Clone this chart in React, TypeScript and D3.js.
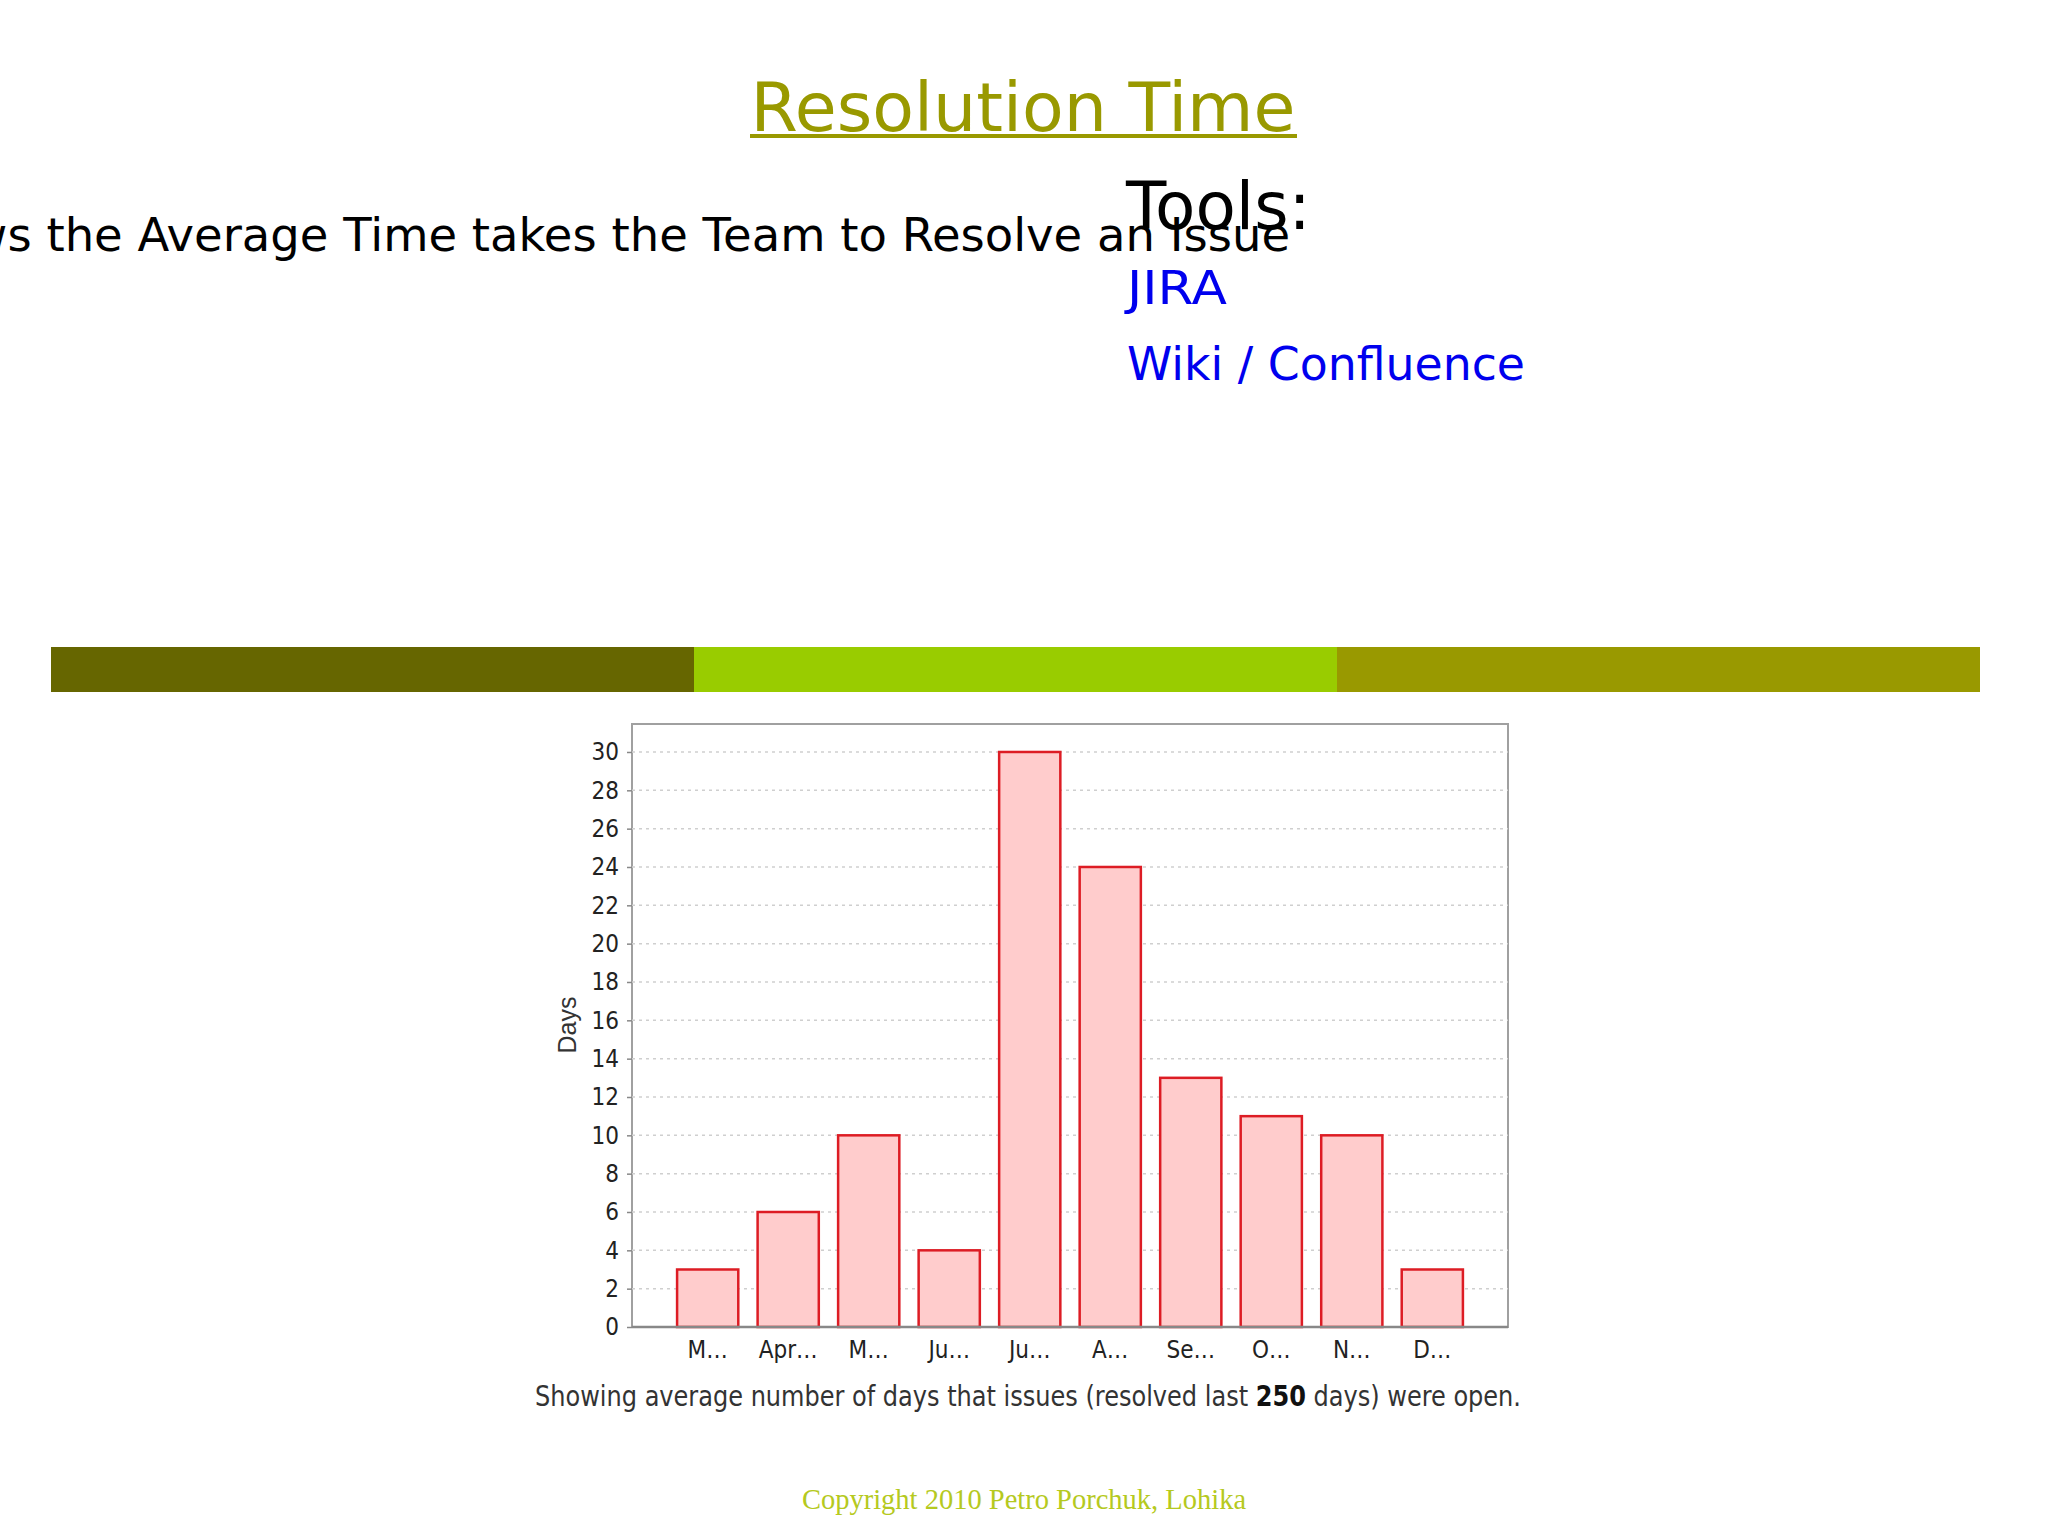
import * as d3 from "d3";
import React, { useEffect, useRef } from "react";

// chart values
const months = ["M…", "Apr…", "M…", "Ju…", "Ju…", "A…", "Se…", "O…", "N…", "D…"];
const avgDays = [3, 6, 10, 4, 30, 24, 13, 11, 10, 3];
const yTicks = d3.range(0, 31, 2);

const toolLinks = ["JIRA", "Wiki / Confluence"];
const toolWidths = [100, 398];
const bandColors = ["#666600", "#99cc00", "#999900"];

const W = 2048;
const H = 1536;

const App = () => {
  const chartRef = useRef<SVGGElement | null>(null);

  useEffect(() => {
    if (chartRef.current) drawChart();
  }, []);

  const drawChart = () => {
    const g = d3.select(chartRef.current);
    g.selectAll("*").remove();

    const left = 632;
    const right = 1508;
    const top = 724;
    const bottom = 1327;

    const x = d3
      .scaleBand<number>()
      .domain(d3.range(months.length))
      .range([left, right])
      .paddingInner(0.24)
      .paddingOuter(0.56);

    const y = d3.scaleLinear().domain([0, 31.46]).range([bottom, top]);

    const chartFont = "'Liberation Sans Narrow', 'DejaVu Sans Condensed', sans-serif";

    // frame background
    g.append("rect")
      .attr("x", left)
      .attr("y", top)
      .attr("width", right - left)
      .attr("height", bottom - top)
      .attr("fill", "#fff")
      .attr("stroke", "#a0a0a0")
      .attr("stroke-width", 2);

    // gridlines
    g.append("g")
      .selectAll("line")
      .data(yTicks.filter((t) => t > 0))
      .enter()
      .append("line")
      .attr("x1", left)
      .attr("x2", right)
      .attr("y1", (d) => y(d))
      .attr("y2", (d) => y(d))
      .attr("stroke", "#cfcfcf")
      .attr("stroke-width", 1.5)
      .attr("stroke-dasharray", "3,4");

    // y axis
    const yAxis = g
      .append("g")
      .attr("transform", `translate(${left},0)`)
      .call(d3.axisLeft(y).tickValues(yTicks).tickSize(5).tickPadding(8));
    yAxis.select(".domain").remove();
    yAxis.selectAll(".tick line").attr("stroke", "#888").attr("stroke-width", 1.5);
    yAxis
      .selectAll(".tick text")
      .attr("font-family", chartFont)
      .attr("font-size", 24)
      .attr("fill", "#222");

    // bars
    g.append("g")
      .selectAll("rect")
      .data(avgDays)
      .enter()
      .append("rect")
      .attr("x", (d, i) => x(i)!)
      .attr("y", (d) => y(d))
      .attr("width", x.bandwidth())
      .attr("height", (d) => bottom - y(d))
      .attr("fill", "#ffcccc")
      .attr("stroke", "#dd1c24")
      .attr("stroke-width", 2.5);

    // bottom axis line
    g.append("line")
      .attr("x1", left)
      .attr("x2", right)
      .attr("y1", bottom)
      .attr("y2", bottom)
      .attr("stroke", "#888")
      .attr("stroke-width", 2.5);

    // x labels
    g.append("g")
      .selectAll("text")
      .data(months)
      .enter()
      .append("text")
      .attr("x", (d, i) => x(i)! + x.bandwidth() / 2)
      .attr("y", 1358)
      .attr("text-anchor", "middle")
      .attr("font-family", chartFont)
      .attr("font-size", 24)
      .attr("fill", "#222")
      .text((d) => d);

    // y label
    g.append("text")
      .attr("transform", `translate(576,1025) rotate(-90)`)
      .attr("text-anchor", "middle")
      .attr("font-family", "'Liberation Sans', Arial, sans-serif")
      .attr("font-size", 25)
      .attr("fill", "#333")
      .text("Days");

    // caption
    const cap = g
      .append("text")
      .attr("x", 535)
      .attr("y", 1406)
      .attr("textLength", 986)
      .attr("lengthAdjust", "spacingAndGlyphs")
      .attr("font-family", chartFont)
      .attr("font-size", 28)
      .attr("fill", "#333");
    cap.append("tspan").text("Showing average number of days that issues (resolved last ");
    cap.append("tspan").attr("font-weight", "bold").attr("fill", "#111").text("250");
    cap.append("tspan").text(" days) were open.");
  };

  const bandX = d3.scaleBand<number>().domain([0, 1, 2]).range([51, 1980]);

  return (
    <svg
      width={W}
      height={H}
      style={{ position: "absolute", left: 0, top: 0, display: "block", background: "#fff" }}
    >
      <text
        x={1023}
        y={131}
        textAnchor="middle"
        fontFamily="'DejaVu Sans', Verdana, sans-serif"
        fontSize={68}
        fill="#999900"
        textLength={545}
        lengthAdjust="spacingAndGlyphs"
      >
        Resolution Time
      </text>
      <rect x={750} y={134} width={547} height={4} fill="#999900" />

      <text
        x={1290}
        y={251}
        textAnchor="end"
        fontFamily="'DejaVu Sans', Verdana, sans-serif"
        fontSize={46.5}
        fill="#000"
      >
        Shows the Average Time takes the Team to Resolve an Issue
      </text>

      <text x={1126} y={229} fontFamily="'DejaVu Sans', Verdana, sans-serif" fontSize={66} fill="#000">
        Tools:
      </text>
      {toolLinks.map((t, i) => (
        <text
          key={t}
          x={1127}
          y={304 + i * 76}
          fontFamily="'DejaVu Sans', Verdana, sans-serif"
          fontSize={46}
          fill="#0000ee"
          textLength={toolWidths[i]}
          lengthAdjust="spacingAndGlyphs"
        >
          {t}
        </text>
      ))}

      {bandColors.map((c, i) => (
        <rect key={c} x={bandX(i)} y={647} width={bandX.bandwidth()} height={45} fill={c} />
      ))}

      <g ref={chartRef} />

      <text
        x={1024}
        y={1509}
        textAnchor="middle"
        fontFamily="'Liberation Serif', 'Times New Roman', serif"
        fontSize={28.5}
        fill="#b5c920"
      >
        Copyright 2010 Petro Porchuk, Lohika
      </text>
    </svg>
  );
};

export default App;
